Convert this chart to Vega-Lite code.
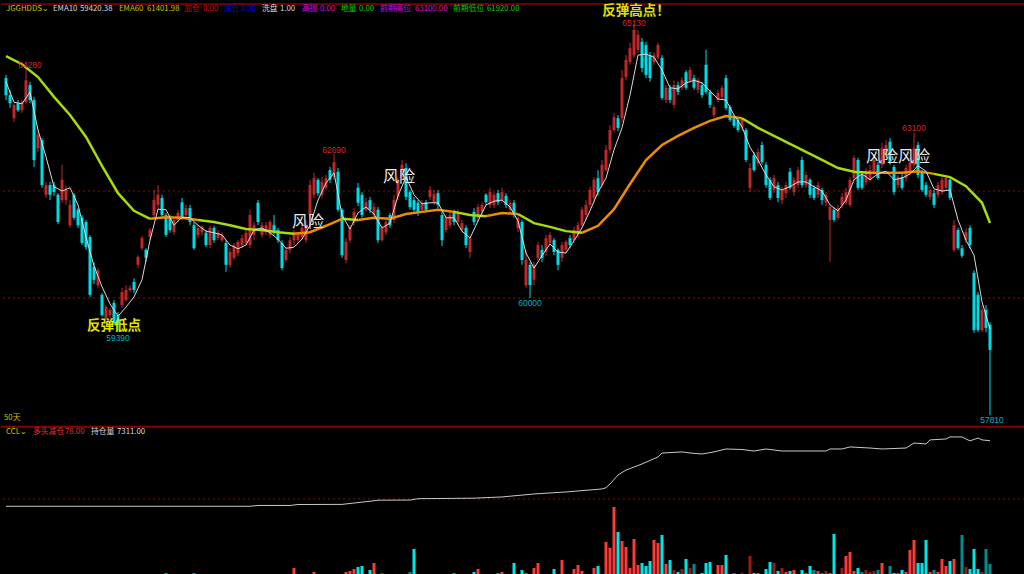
{
"$schema":"https://vega.github.io/schema/vega-lite/v6.json",
"background":"#000000",
"padding":0,
"spacing":0,
"config":{"view":{"stroke":null},"text":{"font":"Noto Sans CJK SC"}},
"resolve":{"scale":{"y":"independent","color":"independent"}},
"datasets":{
"k":[
{"i":0,"o":64110,"h":64170,"l":63700,"c":63790,"v":3},
{"i":1,"o":63790,"h":63890,"l":63550,"c":63640,"v":3},
{"i":2,"o":63360,"h":63640,"l":63290,"c":63610,"v":3},
{"i":3,"o":63640,"h":63700,"l":63480,"c":63510,"v":3},
{"i":4,"o":63510,"h":63700,"l":63460,"c":63660,"v":3},
{"i":5,"o":63660,"h":64280,"l":63630,"c":64070,"v":10},
{"i":6,"o":63980,"h":64040,"l":63640,"c":63700,"v":5},
{"i":7,"o":63700,"h":63760,"l":62450,"c":62580,"v":20},
{"i":8,"o":62800,"h":63140,"l":62730,"c":63050,"v":5},
{"i":9,"o":62950,"h":62990,"l":62060,"c":62110,"v":5},
{"i":10,"o":61930,"h":62170,"l":61870,"c":62110,"v":7},
{"i":11,"o":62110,"h":62170,"l":61830,"c":61930,"v":3},
{"i":12,"o":62110,"h":62170,"l":61910,"c":61980,"v":3},
{"i":13,"o":61930,"h":61960,"l":61380,"c":61420,"v":5},
{"i":14,"o":61830,"h":62490,"l":61780,"c":62210,"v":20},
{"i":15,"o":61830,"h":62110,"l":61740,"c":62020,"v":10},
{"i":16,"o":61360,"h":61830,"l":61310,"c":61740,"v":10},
{"i":17,"o":61930,"h":61960,"l":61460,"c":61500,"v":10},
{"i":18,"o":61650,"h":61680,"l":61310,"c":61360,"v":5},
{"i":19,"o":61500,"h":61550,"l":60990,"c":61030,"v":5},
{"i":20,"o":61420,"h":61460,"l":60900,"c":60950,"v":10},
{"i":21,"o":61140,"h":61180,"l":60020,"c":60060,"v":10},
{"i":22,"o":60580,"h":60670,"l":60260,"c":60340,"v":5},
{"i":23,"o":60240,"h":60560,"l":60190,"c":60520,"v":5},
{"i":24,"o":60060,"h":60090,"l":59650,"c":59680,"v":10},
{"i":25,"o":59630,"h":59870,"l":59590,"c":59830,"v":10},
{"i":26,"o":59680,"h":59810,"l":59630,"c":59780,"v":17},
{"i":27,"o":59910,"h":59960,"l":59500,"c":59530,"v":5},
{"i":28,"o":59680,"h":59740,"l":59390,"c":59500,"v":5},
{"i":29,"o":59870,"h":60190,"l":59810,"c":60110,"v":20},
{"i":30,"o":59960,"h":60240,"l":59930,"c":60150,"v":5},
{"i":31,"o":60150,"h":60240,"l":60110,"c":60190,"v":5},
{"i":32,"o":60300,"h":60370,"l":60090,"c":60150,"v":5},
{"i":33,"o":60620,"h":60800,"l":60560,"c":60770,"v":7},
{"i":34,"o":60930,"h":61160,"l":60900,"c":61120,"v":5},
{"i":35,"o":60900,"h":60930,"l":60670,"c":60750,"v":5},
{"i":36,"o":61140,"h":61310,"l":61080,"c":61270,"v":5},
{"i":37,"o":61550,"h":62020,"l":61500,"c":61830,"v":5},
{"i":38,"o":61740,"h":62110,"l":61650,"c":61930,"v":5},
{"i":39,"o":61870,"h":61930,"l":61500,"c":61550,"v":5},
{"i":40,"o":61550,"h":61590,"l":61140,"c":61180,"v":27},
{"i":41,"o":61500,"h":61550,"l":61220,"c":61270,"v":5},
{"i":42,"o":61230,"h":61500,"l":61180,"c":61460,"v":10},
{"i":43,"o":61460,"h":61650,"l":61420,"c":61590,"v":5},
{"i":44,"o":61790,"h":61870,"l":61460,"c":61510,"v":7},
{"i":45,"o":61550,"h":61740,"l":61500,"c":61680,"v":5},
{"i":46,"o":61680,"h":61740,"l":61360,"c":61420,"v":5},
{"i":47,"o":61360,"h":61420,"l":60900,"c":60930,"v":27},
{"i":48,"o":61180,"h":61360,"l":61120,"c":61310,"v":5},
{"i":49,"o":61230,"h":61360,"l":61160,"c":61330,"v":7},
{"i":50,"o":61220,"h":61270,"l":60950,"c":60990,"v":7},
{"i":51,"o":60990,"h":61350,"l":60930,"c":61310,"v":5},
{"i":52,"o":61310,"h":61350,"l":61030,"c":61080,"v":5},
{"i":53,"o":61120,"h":61270,"l":61080,"c":61220,"v":5},
{"i":54,"o":61080,"h":61230,"l":61050,"c":61180,"v":5},
{"i":55,"o":61030,"h":61080,"l":60490,"c":60620,"v":13},
{"i":56,"o":60620,"h":60930,"l":60560,"c":60860,"v":17},
{"i":57,"o":60750,"h":61030,"l":60710,"c":60990,"v":5},
{"i":58,"o":60840,"h":61080,"l":60790,"c":61050,"v":5},
{"i":59,"o":60990,"h":61180,"l":60930,"c":61120,"v":5},
{"i":60,"o":61030,"h":61270,"l":60990,"c":61220,"v":5},
{"i":61,"o":60990,"h":61650,"l":60930,"c":61550,"v":13},
{"i":62,"o":61180,"h":61420,"l":61080,"c":61360,"v":13},
{"i":63,"o":61780,"h":61830,"l":61360,"c":61420,"v":17},
{"i":64,"o":61180,"h":61420,"l":61120,"c":61360,"v":17},
{"i":65,"o":61230,"h":61420,"l":61180,"c":61360,"v":5},
{"i":66,"o":61180,"h":61460,"l":61120,"c":61420,"v":13},
{"i":67,"o":61360,"h":61550,"l":61180,"c":61220,"v":17},
{"i":68,"o":61270,"h":61310,"l":61030,"c":61080,"v":13},
{"i":69,"o":61030,"h":61080,"l":60520,"c":60560,"v":10},
{"i":70,"o":60710,"h":60950,"l":60670,"c":60900,"v":13},
{"i":71,"o":60900,"h":61140,"l":60840,"c":61080,"v":5},
{"i":72,"o":61080,"h":61270,"l":60990,"c":61230,"v":80},
{"i":73,"o":61080,"h":61230,"l":61030,"c":61180,"v":10},
{"i":74,"o":61140,"h":61360,"l":61080,"c":61310,"v":5},
{"i":75,"o":61080,"h":61460,"l":61030,"c":61360,"v":5},
{"i":76,"o":61550,"h":62210,"l":61500,"c":62110,"v":20},
{"i":77,"o":61930,"h":62340,"l":61870,"c":62240,"v":40},
{"i":78,"o":62210,"h":62240,"l":61910,"c":61960,"v":20},
{"i":79,"o":61930,"h":62260,"l":61870,"c":62170,"v":5},
{"i":80,"o":62060,"h":62300,"l":62020,"c":62240,"v":5},
{"i":81,"o":62390,"h":62450,"l":62150,"c":62210,"v":5},
{"i":82,"o":62260,"h":62690,"l":62210,"c":62540,"v":10},
{"i":83,"o":62360,"h":62430,"l":61610,"c":61650,"v":20},
{"i":84,"o":61650,"h":61680,"l":60750,"c":60800,"v":13},
{"i":85,"o":60710,"h":61120,"l":60650,"c":61050,"v":40},
{"i":86,"o":61080,"h":61360,"l":61030,"c":61310,"v":50},
{"i":87,"o":61400,"h":61680,"l":61350,"c":61610,"v":70},
{"i":88,"o":62060,"h":62150,"l":61720,"c":61780,"v":90},
{"i":89,"o":61930,"h":61980,"l":61500,"c":61550,"v":100},
{"i":90,"o":61650,"h":61870,"l":61610,"c":61790,"v":10},
{"i":91,"o":61830,"h":61890,"l":61590,"c":61650,"v":60},
{"i":92,"o":61550,"h":61780,"l":61500,"c":61700,"v":130},
{"i":93,"o":61650,"h":61700,"l":61030,"c":61080,"v":20},
{"i":94,"o":61080,"h":61360,"l":61050,"c":61310,"v":27},
{"i":95,"o":61230,"h":61460,"l":61180,"c":61420,"v":10},
{"i":96,"o":61550,"h":61590,"l":61310,"c":61360,"v":5},
{"i":97,"o":61460,"h":61930,"l":61400,"c":61830,"v":5},
{"i":98,"o":61890,"h":62260,"l":61830,"c":62210,"v":20},
{"i":99,"o":62260,"h":62580,"l":62210,"c":62490,"v":5},
{"i":100,"o":62430,"h":62520,"l":61830,"c":61890,"v":10},
{"i":101,"o":61980,"h":62020,"l":61650,"c":61700,"v":40,"k":"减"},
{"i":102,"o":61830,"h":61890,"l":61610,"c":61650,"v":270},
{"i":103,"o":61780,"h":61830,"l":61530,"c":61590,"v":10},
{"i":104,"o":61650,"h":61830,"l":61590,"c":61780,"v":10},
{"i":105,"o":61790,"h":61830,"l":61610,"c":61650,"v":5},
{"i":106,"o":61890,"h":62090,"l":61830,"c":62020,"v":20},
{"i":107,"o":61790,"h":62020,"l":61740,"c":61940,"v":10},
{"i":108,"o":61960,"h":62020,"l":61680,"c":61740,"v":5},
{"i":109,"o":61550,"h":61610,"l":60970,"c":61080,"v":13,"k":"减"},
{"i":110,"o":61270,"h":61550,"l":61220,"c":61500,"v":5},
{"i":111,"o":61360,"h":61610,"l":61310,"c":61550,"v":10},
{"i":112,"o":61610,"h":61650,"l":61360,"c":61420,"v":27},
{"i":113,"o":61420,"h":61650,"l":61360,"c":61610,"v":5},
{"i":114,"o":61270,"h":61460,"l":61220,"c":61400,"v":10},
{"i":115,"o":61310,"h":61360,"l":60930,"c":60990,"v":5},
{"i":116,"o":60860,"h":61180,"l":60750,"c":61120,"v":10},
{"i":117,"o":61610,"h":61680,"l":61360,"c":61420,"v":40},
{"i":118,"o":61500,"h":61760,"l":61420,"c":61700,"v":70},
{"i":119,"o":61610,"h":61790,"l":61550,"c":61740,"v":10},
{"i":120,"o":61930,"h":61960,"l":61740,"c":61790,"v":5},
{"i":121,"o":61740,"h":62060,"l":61680,"c":61980,"v":10},
{"i":122,"o":61740,"h":61980,"l":61680,"c":61930,"v":5},
{"i":123,"o":61960,"h":62020,"l":61740,"c":61790,"v":27},
{"i":124,"o":61830,"h":62060,"l":61780,"c":61980,"v":40},
{"i":125,"o":61910,"h":61960,"l":61680,"c":61740,"v":20},
{"i":126,"o":61650,"h":61830,"l":61590,"c":61780,"v":5},
{"i":127,"o":61780,"h":61830,"l":61500,"c":61550,"v":130},
{"i":128,"o":61310,"h":61550,"l":61230,"c":61500,"v":20},
{"i":129,"o":61420,"h":61460,"l":60620,"c":60710,"v":60},
{"i":130,"o":60240,"h":60900,"l":60190,"c":60710,"v":30},
{"i":131,"o":60620,"h":60670,"l":60000,"c":60240,"v":20},
{"i":132,"o":60340,"h":60670,"l":60240,"c":60620,"v":80},
{"i":133,"o":60750,"h":61050,"l":60710,"c":60990,"v":130},
{"i":134,"o":60900,"h":60990,"l":60670,"c":60750,"v":10},
{"i":135,"o":60860,"h":61180,"l":60800,"c":61120,"v":10},
{"i":136,"o":61030,"h":61230,"l":60990,"c":61180,"v":13},
{"i":137,"o":61080,"h":61120,"l":60800,"c":60860,"v":70},
{"i":138,"o":60900,"h":60930,"l":60520,"c":60620,"v":10},
{"i":139,"o":60750,"h":61050,"l":60670,"c":60990,"v":160},
{"i":140,"o":60900,"h":61080,"l":60840,"c":61050,"v":13},
{"i":141,"o":61120,"h":61180,"l":60930,"c":60990,"v":7},
{"i":142,"o":61080,"h":61330,"l":61030,"c":61270,"v":70},
{"i":143,"o":61180,"h":61420,"l":61120,"c":61360,"v":110},
{"i":144,"o":61360,"h":61700,"l":61310,"c":61650,"v":50},
{"i":145,"o":61550,"h":61830,"l":61460,"c":61740,"v":20},
{"i":146,"o":61740,"h":62080,"l":61680,"c":62020,"v":20},
{"i":147,"o":61870,"h":62260,"l":61790,"c":62210,"v":80},
{"i":148,"o":62240,"h":62390,"l":61910,"c":61980,"v":100},
{"i":149,"o":62110,"h":62580,"l":62060,"c":62490,"v":20},
{"i":150,"o":62390,"h":62860,"l":62360,"c":62770,"v":340},
{"i":151,"o":62770,"h":63230,"l":62710,"c":63140,"v":280},
{"i":152,"o":63140,"h":63460,"l":63100,"c":63380,"v":690},
{"i":153,"o":63360,"h":63420,"l":63120,"c":63180,"v":440},
{"i":154,"o":63360,"h":64260,"l":63290,"c":64110,"v":350},
{"i":155,"o":64130,"h":64540,"l":64070,"c":64450,"v":290},
{"i":156,"o":64410,"h":64770,"l":64360,"c":64670,"v":80},
{"i":157,"o":64540,"h":65130,"l":64490,"c":65010,"v":370},
{"i":158,"o":64640,"h":65010,"l":64580,"c":64920,"v":110},
{"i":159,"o":64790,"h":64860,"l":64220,"c":64300,"v":130},
{"i":160,"o":64730,"h":64790,"l":64110,"c":64170,"v":100},
{"i":161,"o":64540,"h":64600,"l":64040,"c":64110,"v":150},
{"i":162,"o":64410,"h":64600,"l":64360,"c":64540,"v":360},
{"i":163,"o":64490,"h":64770,"l":64450,"c":64730,"v":330},
{"i":164,"o":64490,"h":64540,"l":63700,"c":63740,"v":410},
{"i":165,"o":63700,"h":63980,"l":63640,"c":63930,"v":120},
{"i":166,"o":63930,"h":63980,"l":63640,"c":63700,"v":160},
{"i":167,"o":63610,"h":64070,"l":63550,"c":63980,"v":60,"k":"减"},
{"i":168,"o":63980,"h":64040,"l":63790,"c":63850,"v":40},
{"i":169,"o":63930,"h":64130,"l":63890,"c":64070,"v":70,"k":"减"},
{"i":170,"o":64220,"h":64260,"l":63890,"c":63930,"v":170},
{"i":171,"o":64070,"h":64320,"l":64020,"c":64260,"v":80,"k":"减"},
{"i":172,"o":64110,"h":64170,"l":63890,"c":63930,"v":120,"k":"减"},
{"i":173,"o":63890,"h":64110,"l":63830,"c":64070,"v":20},
{"i":174,"o":63980,"h":64040,"l":63740,"c":63790,"v":30},
{"i":175,"o":64360,"h":64640,"l":63810,"c":63850,"v":130},
{"i":176,"o":63850,"h":63890,"l":63550,"c":63610,"v":140},
{"i":177,"o":63420,"h":63610,"l":63380,"c":63570,"v":20},
{"i":178,"o":63700,"h":63890,"l":63660,"c":63830,"v":110},
{"i":179,"o":63760,"h":63980,"l":63700,"c":63930,"v":110},
{"i":180,"o":64110,"h":64170,"l":63510,"c":63550,"v":210},
{"i":181,"o":63570,"h":63610,"l":63290,"c":63330,"v":10},
{"i":182,"o":63360,"h":63420,"l":63180,"c":63220,"v":30,"k":"减"},
{"i":183,"o":63330,"h":63360,"l":63100,"c":63140,"v":20},
{"i":184,"o":63180,"h":63360,"l":63120,"c":63330,"v":30,"k":"减"},
{"i":185,"o":63140,"h":63180,"l":62540,"c":62580,"v":20},
{"i":186,"o":62060,"h":62520,"l":61980,"c":62430,"v":200,"k":"减"},
{"i":187,"o":62670,"h":62730,"l":62360,"c":62390,"v":30},
{"i":188,"o":62520,"h":62800,"l":62470,"c":62730,"v":30},
{"i":189,"o":62860,"h":62920,"l":62490,"c":62540,"v":20},
{"i":190,"o":62490,"h":62540,"l":62060,"c":62110,"v":70},
{"i":191,"o":62210,"h":62260,"l":61830,"c":61870,"v":140},
{"i":192,"o":62020,"h":62300,"l":61960,"c":62240,"v":130,"k":"减"},
{"i":193,"o":62110,"h":62170,"l":61790,"c":61870,"v":50},
{"i":194,"o":61830,"h":62080,"l":61760,"c":62020,"v":80,"k":"减"},
{"i":195,"o":61960,"h":62170,"l":61870,"c":62110,"v":40},
{"i":196,"o":62360,"h":62430,"l":62020,"c":62060,"v":50},
{"i":197,"o":61980,"h":62260,"l":61910,"c":62210,"v":60},
{"i":198,"o":62110,"h":62450,"l":62060,"c":62390,"v":20},
{"i":199,"o":62580,"h":62640,"l":62060,"c":62110,"v":60},
{"i":200,"o":62110,"h":62360,"l":62060,"c":62300,"v":30},
{"i":201,"o":62210,"h":62240,"l":61870,"c":61930,"v":100},
{"i":202,"o":62060,"h":62110,"l":61830,"c":61870,"v":60,"k":"减"},
{"i":203,"o":61930,"h":62170,"l":61870,"c":62110,"v":50},
{"i":204,"o":62020,"h":62060,"l":61740,"c":61830,"v":30,"k":"减"},
{"i":205,"o":61780,"h":61980,"l":61720,"c":61930,"v":50,"k":"减"},
{"i":206,"o":61460,"h":61740,"l":60670,"c":61700,"v":30},
{"i":207,"o":61650,"h":61680,"l":61420,"c":61460,"v":420},
{"i":208,"o":61500,"h":61740,"l":61460,"c":61680,"v":20},
{"i":209,"o":61740,"h":61960,"l":61680,"c":61890,"v":80,"k":"减"},
{"i":210,"o":61780,"h":62060,"l":61740,"c":61980,"v":200},
{"i":211,"o":61740,"h":62260,"l":61700,"c":62210,"v":240},
{"i":212,"o":62240,"h":62670,"l":62190,"c":62620,"v":50},
{"i":213,"o":62580,"h":62620,"l":62020,"c":62060,"v":80},
{"i":214,"o":62300,"h":62360,"l":62020,"c":62060,"v":40,"k":"减"},
{"i":215,"o":62170,"h":62430,"l":62110,"c":62360,"v":60,"k":"减"},
{"i":216,"o":62210,"h":62490,"l":62170,"c":62390,"v":40,"k":"减"},
{"i":217,"o":62360,"h":62670,"l":62300,"c":62580,"v":50,"k":"减"},
{"i":218,"o":62490,"h":62540,"l":62210,"c":62240,"v":60,"k":"减"},
{"i":219,"o":62490,"h":62900,"l":62430,"c":62800,"v":130},
{"i":220,"o":62670,"h":62950,"l":62620,"c":62860,"v":20},
{"i":221,"o":62920,"h":62990,"l":62490,"c":62520,"v":100,"k":"减"},
{"i":222,"o":62450,"h":62490,"l":61930,"c":61980,"v":30},
{"i":223,"o":62110,"h":62300,"l":62060,"c":62260,"v":30},
{"i":224,"o":62260,"h":62340,"l":62020,"c":62060,"v":60},
{"i":225,"o":62240,"h":62490,"l":62170,"c":62430,"v":40},
{"i":226,"o":62360,"h":62620,"l":62300,"c":62540,"v":260},
{"i":227,"o":62490,"h":63100,"l":62430,"c":62800,"v":360},
{"i":228,"o":62860,"h":62920,"l":62240,"c":62300,"v":130},
{"i":229,"o":62340,"h":62390,"l":61980,"c":62020,"v":130},
{"i":230,"o":62110,"h":62170,"l":61890,"c":61930,"v":360},
{"i":231,"o":61890,"h":62080,"l":61830,"c":62020,"v":40},
{"i":232,"o":61960,"h":62020,"l":61680,"c":61740,"v":60,"k":"减"},
{"i":233,"o":61930,"h":62170,"l":61870,"c":62110,"v":40},
{"i":234,"o":61980,"h":62260,"l":61930,"c":62210,"v":170},
{"i":235,"o":62060,"h":62300,"l":62020,"c":62240,"v":100},
{"i":236,"o":62210,"h":62240,"l":61830,"c":61870,"v":150},
{"i":237,"o":60900,"h":61460,"l":60860,"c":61360,"v":170},
{"i":238,"o":61270,"h":61310,"l":60900,"c":60930,"v":20},
{"i":239,"o":60930,"h":60990,"l":60750,"c":60790,"v":410,"k":"减"},
{"i":240,"o":61080,"h":61310,"l":61030,"c":61230,"v":90,"k":"减"},
{"i":241,"o":61310,"h":61360,"l":60930,"c":60990,"v":70},
{"i":242,"o":60470,"h":60520,"l":59350,"c":59400,"v":270},
{"i":243,"o":60060,"h":60110,"l":59360,"c":59400,"v":70},
{"i":244,"o":59400,"h":59870,"l":59360,"c":59780,"v":40,"k":"减"},
{"i":245,"o":59780,"h":59870,"l":59360,"c":59440,"v":270,"k":"减"},
{"i":246,"o":59500,"h":59550,"l":57810,"c":59030,"v":120,"k":"减"}
],
"e10":[
{"i":0,"v":64040},{"i":2,"v":63660},{"i":4,"v":63630},{"i":6,"v":63850},{"i":8,"v":63140},{"i":10,"v":62640},{"i":12,"v":62080},{"i":14,"v":62000},{"i":16,"v":62060},{"i":18,"v":61740},{"i":20,"v":61140},{"i":22,"v":60600},{"i":24,"v":60210},{"i":26,"v":59890},{"i":28,"v":59660},{"i":30,"v":59830},{"i":32,"v":60020},{"i":34,"v":60340},{"i":36,"v":61080},{"i":38,"v":61660},{"i":40,"v":61650},{"i":42,"v":61360},{"i":44,"v":61510},{"i":46,"v":61500},{"i":48,"v":61360},{"i":50,"v":61250},{"i":52,"v":61220},{"i":54,"v":61180},{"i":56,"v":60990},{"i":58,"v":60920},{"i":60,"v":60990},{"i":62,"v":61270},{"i":64,"v":61310},{"i":66,"v":61220},{"i":68,"v":61100},{"i":70,"v":60930},{"i":72,"v":60950},{"i":74,"v":61100},{"i":76,"v":61360},{"i":78,"v":61830},{"i":80,"v":62150},{"i":82,"v":62340},{"i":84,"v":61550},{"i":86,"v":61290},{"i":88,"v":61590},{"i":90,"v":61700},{"i":92,"v":61570},{"i":94,"v":61310},{"i":96,"v":61400},{"i":98,"v":61910},{"i":100,"v":62260},{"i":102,"v":61930},{"i":104,"v":61760},{"i":106,"v":61780},{"i":108,"v":61780},{"i":110,"v":61500},{"i":112,"v":61500},{"i":114,"v":61250},{"i":116,"v":61120},{"i":118,"v":61440},{"i":120,"v":61740},{"i":122,"v":61810},{"i":124,"v":61830},{"i":126,"v":61700},{"i":128,"v":61440},{"i":130,"v":60840},{"i":132,"v":60560},{"i":134,"v":60790},{"i":136,"v":61010},{"i":138,"v":60860},{"i":140,"v":60840},{"i":142,"v":61070},{"i":144,"v":61310},{"i":146,"v":61630},{"i":148,"v":61980},{"i":150,"v":62240},{"i":152,"v":62770},{"i":154,"v":63180},{"i":156,"v":63790},{"i":158,"v":64540},{"i":160,"v":64560},{"i":162,"v":64500},{"i":164,"v":64260},{"i":166,"v":63930},{"i":168,"v":63910},{"i":170,"v":64020},{"i":172,"v":64070},{"i":174,"v":64020},{"i":176,"v":63870},{"i":178,"v":63720},{"i":180,"v":63700},{"i":182,"v":63420},{"i":184,"v":63200},{"i":186,"v":62820},{"i":188,"v":62580},{"i":190,"v":62300},{"i":192,"v":62080},{"i":194,"v":62020},{"i":196,"v":62080},{"i":198,"v":62170},{"i":200,"v":62170},{"i":202,"v":62080},{"i":204,"v":62000},{"i":206,"v":61740},{"i":208,"v":61630},{"i":210,"v":61830},{"i":212,"v":62210},{"i":214,"v":62320},{"i":216,"v":62210},{"i":218,"v":62320},{"i":220,"v":62370},{"i":222,"v":62210},{"i":224,"v":62240},{"i":226,"v":62320},{"i":228,"v":62470},{"i":230,"v":62370},{"i":232,"v":62040},{"i":234,"v":62000},{"i":236,"v":62020},{"i":238,"v":61460},{"i":240,"v":61080},{"i":242,"v":60800},{"i":244,"v":59930},{"i":246,"v":59420.38}
],
"e60":[
{"s":1,"t":"跌","i":0,"v":64520},{"s":1,"t":"跌","i":4,"v":64370},{"s":1,"t":"跌","i":8,"v":64130},{"s":1,"t":"跌","i":12,"v":63760},{"s":1,"t":"跌","i":16,"v":63420},{"s":1,"t":"跌","i":20,"v":63010},{"s":1,"t":"跌","i":24,"v":62470},{"s":1,"t":"跌","i":28,"v":61960},{"s":1,"t":"跌","i":32,"v":61630},{"s":1,"t":"跌","i":36,"v":61480},
{"s":2,"t":"涨","i":36,"v":61480},{"s":2,"t":"涨","i":40,"v":61510},{"s":2,"t":"涨","i":44,"v":61500},{"s":2,"t":"涨","i":48,"v":61460},
{"s":3,"t":"跌","i":48,"v":61460},{"s":3,"t":"跌","i":52,"v":61420},{"s":3,"t":"跌","i":56,"v":61360},{"s":3,"t":"跌","i":60,"v":61290},{"s":3,"t":"跌","i":64,"v":61270},{"s":3,"t":"跌","i":68,"v":61230},{"s":3,"t":"跌","i":72,"v":61200},
{"s":4,"t":"涨","i":72,"v":61200},{"s":4,"t":"涨","i":76,"v":61230},{"s":4,"t":"涨","i":80,"v":61350},{"s":4,"t":"涨","i":84,"v":61480},
{"s":5,"t":"跌","i":84,"v":61480},{"s":5,"t":"跌","i":88,"v":61460},
{"s":6,"t":"涨","i":88,"v":61460},{"s":6,"t":"涨","i":92,"v":61500},{"s":6,"t":"涨","i":96,"v":61480},{"s":6,"t":"涨","i":100,"v":61570},{"s":6,"t":"涨","i":104,"v":61610},{"s":6,"t":"涨","i":108,"v":61650},{"s":6,"t":"涨","i":112,"v":61610},
{"s":7,"t":"跌","i":112,"v":61610},{"s":7,"t":"跌","i":116,"v":61550},{"s":7,"t":"跌","i":120,"v":61530},
{"s":8,"t":"涨","i":120,"v":61530},{"s":8,"t":"涨","i":124,"v":61590},{"s":8,"t":"涨","i":128,"v":61570},
{"s":9,"t":"跌","i":128,"v":61570},{"s":9,"t":"跌","i":132,"v":61400},{"s":9,"t":"跌","i":136,"v":61330},{"s":9,"t":"跌","i":140,"v":61250},{"s":9,"t":"跌","i":144,"v":61220},
{"s":10,"t":"涨","i":144,"v":61220},{"s":10,"t":"涨","i":148,"v":61350},{"s":10,"t":"涨","i":152,"v":61660},{"s":10,"t":"涨","i":156,"v":62130},{"s":10,"t":"涨","i":160,"v":62580},{"s":10,"t":"涨","i":164,"v":62860},{"s":10,"t":"涨","i":168,"v":63030},{"s":10,"t":"涨","i":172,"v":63180},{"s":10,"t":"涨","i":176,"v":63310},{"s":10,"t":"涨","i":180,"v":63400},{"s":10,"t":"涨","i":184,"v":63360},
{"s":11,"t":"跌","i":184,"v":63360},{"s":11,"t":"跌","i":188,"v":63180},{"s":11,"t":"跌","i":192,"v":63030},{"s":11,"t":"跌","i":196,"v":62880},{"s":11,"t":"跌","i":200,"v":62730},{"s":11,"t":"跌","i":204,"v":62580},{"s":11,"t":"跌","i":208,"v":62430},{"s":11,"t":"跌","i":212,"v":62360},{"s":11,"t":"跌","i":216,"v":62340},
{"s":12,"t":"涨","i":216,"v":62340},{"s":12,"t":"涨","i":220,"v":62340},{"s":12,"t":"涨","i":224,"v":62340},{"s":12,"t":"涨","i":228,"v":62370},{"s":12,"t":"涨","i":232,"v":62320},
{"s":13,"t":"跌","i":232,"v":62320},{"s":13,"t":"跌","i":236,"v":62260},{"s":13,"t":"跌","i":240,"v":62090},{"s":13,"t":"跌","i":244,"v":61780},{"s":13,"t":"跌","i":246,"v":61401.98}
],
"ccl":[
{"i":0,"v":2460},{"i":61,"v":2460},{"i":63,"v":2520},{"i":71,"v":2520},{"i":73,"v":2590},{"i":84,"v":2600},{"i":87,"v":2700},{"i":91,"v":2830},{"i":93,"v":2910},{"i":101,"v":2920},{"i":103,"v":3020},{"i":117,"v":3060},{"i":124,"v":3150},{"i":132,"v":3370},{"i":140,"v":3520},{"i":149,"v":3740},{"i":150,"v":3830},{"i":151,"v":4110},{"i":153,"v":4770},{"i":155,"v":5140},{"i":159,"v":5590},{"i":163,"v":6110},{"i":164,"v":6400},{"i":169,"v":6480},{"i":171,"v":6400},{"i":174,"v":6330},{"i":177,"v":6480},{"i":180,"v":6700},{"i":184,"v":6660},{"i":187,"v":6550},{"i":190,"v":6700},{"i":194,"v":6550},{"i":199,"v":6550},{"i":205,"v":6550},{"i":206,"v":6700},{"i":209,"v":6700},{"i":211,"v":6850},{"i":216,"v":6770},{"i":219,"v":6700},{"i":225,"v":6770},{"i":227,"v":7140},{"i":230,"v":7070},{"i":231,"v":7370},{"i":235,"v":7440},{"i":236,"v":7590},{"i":239,"v":7590},{"i":240,"v":7440},{"i":241,"v":7300},{"i":243,"v":7510},{"i":244,"v":7370},{"i":246,"v":7311}
],
"hdr":[
{"i":0,"p":65400,"txt":"JGGHDDS⌄","g":"名称"},
{"i":11.75,"p":65400,"txt":"EMA10","g":"EMA10"},
{"i":18.5,"p":65400,"txt":"59420.38","g":"EMA10"},
{"i":28.25,"p":65400,"txt":"EMA60","g":"EMA60"},
{"i":35.25,"p":65400,"txt":"61401.98","g":"EMA60"},
{"i":44.5,"p":65400,"txt":"加仓","g":"加仓"},
{"i":49.25,"p":65400,"txt":"0.00","g":"加仓"},
{"i":54.5,"p":65400,"txt":"减仓","g":"减仓"},
{"i":58.75,"p":65400,"txt":"0.00","g":"减仓"},
{"i":64,"p":65400,"txt":"洗盘","g":"洗盘"},
{"i":68.5,"p":65400,"txt":"1.00","g":"洗盘"},
{"i":74,"p":65400,"txt":"高抛","g":"高抛"},
{"i":78.5,"p":65400,"txt":"0.00","g":"高抛"},
{"i":83.75,"p":65400,"txt":"地量","g":"地量"},
{"i":88.25,"p":65400,"txt":"0.00","g":"地量"},
{"i":93.5,"p":65400,"txt":"前期高位","g":"前期高位"},
{"i":102.25,"p":65400,"txt":"63100.00","g":"前期高位"},
{"i":111.75,"p":65400,"txt":"前期低位","g":"前期低位"},
{"i":120.25,"p":65400,"txt":"61920.00","g":"前期低位"},
{"i":-0.5,"p":57760,"txt":"50天","g":"名称"}
],
"ann":[
{"i":157.5,"p":65365,"txt":"反弹高点！","g":"信号"},
{"i":27,"p":59480,"txt":"反弹低点","g":"信号"},
{"i":75.5,"p":61420,"txt":"风险","g":"风险"},
{"i":98.25,"p":62260,"txt":"风险","g":"风险"},
{"i":223,"p":62640,"txt":"风险风险","g":"风险"},
{"i":157,"p":65140,"txt":"65130","g":"高"},
{"i":6,"p":64360,"txt":"64280","g":"高"},
{"i":82,"p":62770,"txt":"62690","g":"高"},
{"i":227,"p":63180,"txt":"63100","g":"高"},
{"i":28,"p":59260,"txt":"59390","g":"低"},
{"i":131,"p":59910,"txt":"60000","g":"低"},
{"i":246.5,"p":57720,"txt":"57810","g":"低"}
],
"chdr":[
{"i":0,"v":7960,"txt":"CCL⌄","g":"名称"},
{"i":6.75,"v":7960,"txt":"多头减仓","g":"多头减仓"},
{"i":14.75,"v":7960,"txt":"78.00","g":"多头减仓"},
{"i":21.25,"v":7960,"txt":"持仓量","g":"持仓量"},
{"i":27.75,"v":7960,"txt":"7311.00","g":"持仓量"}
]
},
"vconcat":[
{
"width":1024,"height":424,
"resolve":{"scale":{"color":"independent"}},
"encoding":{"x":{"field":"i","type":"quantitative","scale":{"domain":[-1.25,254.75],"nice":false,"zero":false,"padding":0},"axis":null}},
"layer":[
{"data":{"values":[{}]},"mark":{"type":"rule","color":"#8a0c0c","strokeWidth":1,"strokeDash":[2,3]},
 "encoding":{"x":null,"y":{"datum":62000,"type":"quantitative","scale":{"domain":[57645,65570],"nice":false,"zero":false},"axis":null}}},
{"data":{"values":[{}]},"mark":{"type":"rule","color":"#8a0c0c","strokeWidth":1,"strokeDash":[2,3]},
 "encoding":{"x":null,"y":{"datum":60000,"type":"quantitative","axis":null}}},
{"data":{"values":[{}]},"mark":{"type":"rule","color":"#8a0000","strokeWidth":1.5},
 "encoding":{"x":null,"y":{"datum":65495,"type":"quantitative","axis":null}}},
{"data":{"values":[{}]},"mark":{"type":"rule","color":"#8a0000","strokeWidth":1.5},
 "encoding":{"x":{"datum":-0.625,"type":"quantitative","axis":null}}},
{"data":{"name":"k"},"mark":{"type":"rule","strokeWidth":1},
 "encoding":{"y":{"field":"l","type":"quantitative","axis":null},"y2":{"field":"h"},
  "color":{"condition":{"test":"datum.c >= datum.o","value":"#c0282c"},"value":"#00dce6"}}},
{"data":{"name":"k"},"mark":{"type":"bar","width":3},
 "encoding":{"y":{"field":"o","type":"quantitative","axis":null},"y2":{"field":"c"},
  "color":{"condition":{"test":"datum.c >= datum.o","value":"#c0282c"},"value":"#00dce6"}}},
{"data":{"name":"e60"},"mark":{"type":"line","strokeWidth":2.5},
 "encoding":{"y":{"field":"v","type":"quantitative","axis":null},"detail":{"field":"s","type":"nominal"},
  "color":{"field":"t","type":"nominal","scale":{"domain":["涨","跌"],"range":["#f08c00","#a6dc0a"]},"legend":null}}},
{"data":{"name":"e10"},"mark":{"type":"line","strokeWidth":1,"color":"#d8d8d8"},
 "encoding":{"y":{"field":"v","type":"quantitative","axis":null}}},
{"data":{"name":"ann"},"transform":[{"filter":"datum.g == '信号'"}],
 "mark":{"type":"text","align":"center","baseline":"middle","fontSize":13.5,"fontWeight":"bold","color":"#e0e000"},
 "encoding":{"y":{"field":"p","type":"quantitative","axis":null},"text":{"field":"txt"}}},
{"data":{"name":"ann"},"transform":[{"filter":"datum.g == '风险'"}],
 "mark":{"type":"text","align":"center","baseline":"middle","fontSize":16,"color":"#e8e8e8"},
 "encoding":{"y":{"field":"p","type":"quantitative","axis":null},"text":{"field":"txt"}}},
{"data":{"name":"ann"},"transform":[{"filter":"datum.g == '高'"}],
 "mark":{"type":"text","align":"center","baseline":"middle","fontSize":8.5,"font":"Liberation Sans","color":"#d02828"},
 "encoding":{"y":{"field":"p","type":"quantitative","axis":null},"text":{"field":"txt"}}},
{"data":{"name":"ann"},"transform":[{"filter":"datum.g == '低'"}],
 "mark":{"type":"text","align":"center","baseline":"middle","fontSize":8.5,"font":"Liberation Sans","color":"#00b0c0"},
 "encoding":{"y":{"field":"p","type":"quantitative","axis":null},"text":{"field":"txt"}}},
{"data":{"name":"hdr"},
 "mark":{"type":"text","align":"left","baseline":"middle","fontSize":7.8},
 "encoding":{"y":{"field":"p","type":"quantitative","axis":null},"text":{"field":"txt"},
  "color":{"field":"g","type":"nominal","legend":null,"scale":{"domain":["名称","EMA10","EMA60","加仓","减仓","洗盘","高抛","地量","前期高位","前期低位"],"range":["#c8c800","#d8d8d8","#c0c000","#e00000","#0000f0","#d8d8d8","#e000e0","#00d000","#e000e0","#00d000"]}}}}
]
},
{
"width":1024,"height":150,
"resolve":{"scale":{"y":"independent","color":"independent"}},
"encoding":{"x":{"field":"i","type":"quantitative","scale":{"domain":[-1.25,254.75],"nice":false,"zero":false,"padding":0},"axis":null}},
"layer":[
{"data":{"values":[{}]},"mark":{"type":"rule","color":"#8a0000","strokeWidth":1.5},
 "encoding":{"x":{"datum":-0.625,"type":"quantitative","axis":null}}},
{"data":{"values":[{}]},"mark":{"type":"rule","color":"#8a0c0c","strokeWidth":1,"strokeDash":[2,3]},
 "encoding":{"x":null,"y":{"datum":3000,"type":"quantitative","scale":{"domain":[-2700,8400],"nice":false,"zero":false},"axis":null}}},
{"data":{"name":"k"},"mark":{"type":"bar","width":3},
 "encoding":{"y":{"field":"v","type":"quantitative","scale":{"domain":[0,1500],"nice":false,"zero":true,"padding":0},"axis":null},
  "color":{"condition":[{"test":"datum.c >= datum.o && datum.k == '减'","value":"#961c1c"},{"test":"datum.c >= datum.o","value":"#ff3838"},{"test":"datum.k == '减'","value":"#008c8c"}],"value":"#00e6e6"}}},
{"data":{"name":"ccl"},"mark":{"type":"line","strokeWidth":1,"color":"#c8c8c8"},
 "encoding":{"y":{"field":"v","type":"quantitative","scale":{"domain":[-2700,8400],"nice":false,"zero":false},"axis":null}}},
{"data":{"values":[{}]},"mark":{"type":"rule","color":"#8a0000","strokeWidth":2},
 "encoding":{"x":null,"y":{"datum":8350,"type":"quantitative","scale":{"domain":[-2700,8400],"nice":false,"zero":false},"axis":null}}},
{"data":{"name":"chdr"},
 "mark":{"type":"text","align":"left","baseline":"middle","fontSize":7.8},
 "encoding":{"y":{"field":"v","type":"quantitative","scale":{"domain":[-2700,8400],"nice":false,"zero":false},"axis":null},"text":{"field":"txt"},
  "color":{"field":"g","type":"nominal","legend":null,"scale":{"domain":["名称","多头减仓","持仓量"],"range":["#c8c800","#e03030","#d8d8d8"]}}}}
]
}
]
}
